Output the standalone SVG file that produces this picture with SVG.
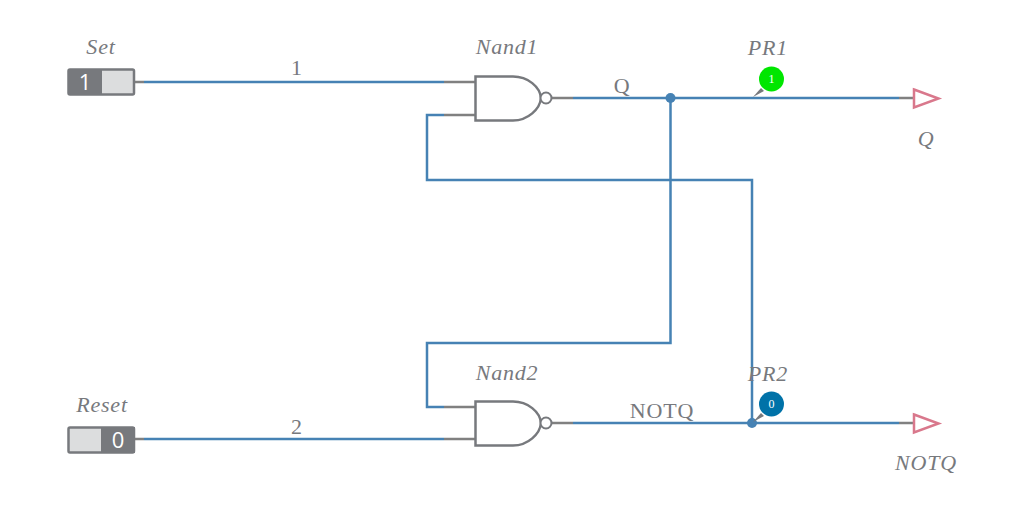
<svg xmlns="http://www.w3.org/2000/svg" width="1024" height="508" viewBox="0 0 1024 508">
<style>
.w{fill:none;stroke:#4682b4;stroke-width:2.500}
.p{fill:none;stroke:#808080;stroke-width:2.500}
.g{fill:none;stroke:#77797d;stroke-width:2.500}
.b{fill:#fff;stroke:#77797d;stroke-width:2}
.o{fill:#fff;stroke:#d9788c;stroke-width:2.500}
.t{font-family:"Liberation Serif",serif;font-size:22px;fill:#77797d;letter-spacing:.8px}
.i{font-style:italic}
.a{text-anchor:middle}
.s{font-family:"Open Sans",sans-serif;font-size:22px;fill:#fff;text-anchor:middle}
.n{font-family:"Liberation Serif",serif;font-size:12px;fill:#fff;text-anchor:middle}
</style>
<rect width="1024" height="508" fill="#fff"/>
<g id="connectors">
<path class="w" d="M144 82H444"/>
<path class="w" d="M573 98H899"/>
<path class="w" d="M444 115H427V180H752V423"/>
<path class="w" d="M670.500 98V343H427V407H444"/>
<path class="w" d="M144 439H444"/>
<path class="w" d="M573 423H899"/>
<circle cx="670.500" cy="98" r="5" fill="#4682b4"/>
<circle cx="752" cy="423" r="5" fill="#4682b4"/>
<path class="p" d="M134 82H144M444 82H475M444 115H475M444 407H475M444 439H475M134 439H144M552 98H573M552 423H573M899 98H914M899 423H914"/>
</g>
<g id="Set">
<text class="t i a" x="101" y="54">Set</text>
<rect x="68.500" y="69.500" width="65.500" height="25" rx="1.500" fill="#dcddde" stroke="#77797d" stroke-width="2.500"/>
<rect x="68" y="69" width="34" height="26" fill="#77797d"/>
<text class="s" x="85" y="90">1</text>
</g>
<g id="Reset">
<text class="t i a" x="102" y="412">Reset</text>
<rect x="68.500" y="427.500" width="65.500" height="25" rx="1.500" fill="#dcddde" stroke="#77797d" stroke-width="2.500"/>
<rect x="101" y="427" width="34" height="26" fill="#77797d"/>
<text class="s" x="118" y="448">0</text>
</g>
<g id="Nand1">
<text class="t i a" x="507" y="54">Nand1</text>
<path class="g" d="M475.500 76.500H513C528 76.500 540 87 541 98C540 109 528 120.500 513 120.500H475.500Z"/>
<circle class="b" cx="546" cy="98" r="5.500"/>
</g>
<g id="Nand2">
<text class="t i a" x="507" y="380">Nand2</text>
<path class="g" d="M475.500 401.500H513C528 401.500 540 412 541 423C540 434 528 445.500 513 445.500H475.500Z"/>
<circle class="b" cx="546" cy="423" r="5.500"/>
</g>
<g id="PR1">
<text class="t i a" x="768" y="55">PR1</text>
<path d="M753 97L761 88L764 91Z" fill="#77797d"/>
<circle cx="771.500" cy="79" r="12.500" fill="#00e600"/>
<text class="n" x="771.500" y="83">1</text>
</g>
<g id="PR2">
<text class="t i a" x="768" y="381">PR2</text>
<path d="M753 422L761 413L764 416Z" fill="#77797d"/>
<circle cx="771.500" cy="404" r="12.500" fill="#0072a8"/>
<text class="n" x="771.500" y="408">0</text>
</g>
<g id="Q">
<path class="o" d="M914 89.500L938.500 98.500L914 107.500Z"/>
<text class="t i a" x="926" y="146">Q</text>
</g>
<g id="NOTQ">
<path class="o" d="M914 414.500L938.500 423.500L914 432.500Z"/>
<text class="t i a" x="926" y="470">NOTQ</text>
</g>
<g id="labels">
<text class="t a" x="297" y="75">1</text>
<text class="t a" x="622" y="93">Q</text>
<text class="t a" x="297" y="434">2</text>
<text class="t a" x="662" y="418">NOTQ</text>
</g>
</svg>
